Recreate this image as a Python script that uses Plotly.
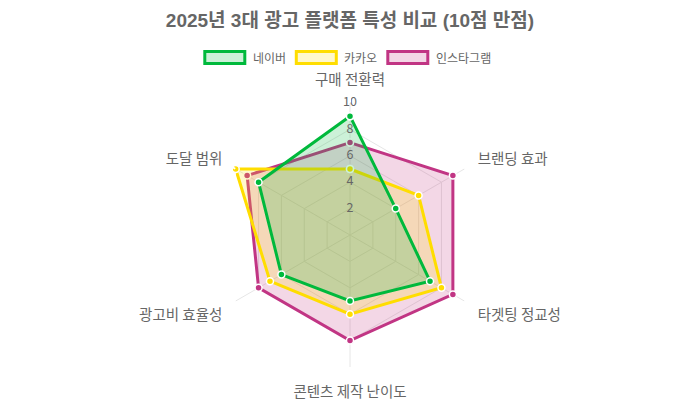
import plotly.graph_objects as go

categories = ["구매 전환력", "브랜딩 효과", "타겟팅 정교성", "콘텐츠 제작 난이도", "광고비 효율성", "도달 범위"]
series_names = ["네이버", "카카오", "인스타그램"]
naver = [9, 4, 7, 5, 6, 8]
kakao = [5, 6, 8, 6, 7, 10]
instagram = [7, 9, 9, 8, 8, 9]
radial_ticks = [2, 4, 6, 8, 10]

line_colors = ["#00B93C", "#FFDD00", "#C13584"]
fill_colors = ["rgba(0,185,60,0.2)", "rgba(255,221,0,0.2)", "rgba(193,53,132,0.2)"]
values = [naver, kakao, instagram]

W, H = 692, 392           # page has an 8px body margin
ML, MR, MT, MB = 0, 8, 95, 33
PW, PH = W - ML - MR, H - MT - MB


def px(x):
    return (x - ML) / PW


def py(y):
    return (H - MB - y) / PH


fig = go.Figure()
# draw Instagram first so Naver ends on top
for i in [2, 1, 0]:
    r = values[i] + [values[i][0]]
    th = categories + [categories[0]]
    fig.add_trace(go.Scatterpolar(
        r=r, theta=th, name=series_names[i], fill="toself",
        fillcolor=fill_colors[i], mode="lines+markers",
        line=dict(color=line_colors[i], width=3),
        marker=dict(size=7, color=line_colors[i], line=dict(color="white", width=1.5)),
        showlegend=False,
    ))

# radial tick labels, centred on the vertical axis
fig.add_trace(go.Scatterpolar(
    r=radial_ticks, theta=[categories[0]] * len(radial_ticks),
    text=[str(v) for v in radial_ticks], mode="text",
    textfont=dict(size=12.5, color="#666666"), textposition="middle center",
    showlegend=False, hoverinfo="skip",
))

# legend drawn Chart.js style: boxes + labels
shapes, annotations = [], []
box_x0 = [196.8, 288.3, 379.8]
for i, name in enumerate(series_names):
    x0 = box_x0[i]
    shapes.append(dict(type="rect", xref="paper", yref="paper",
                       x0=px(x0), x1=px(x0 + 40), y0=py(43.5), y1=py(55.5),
                       line=dict(color=line_colors[i], width=3),
                       fillcolor=fill_colors[i]))
    annotations.append(dict(text=name, xref="paper", yref="paper",
                            x=px(x0 + 46), y=py(49.5), xanchor="left", yanchor="middle",
                            showarrow=False, font=dict(size=12, color="#666666")))

fig.update_layout(
    width=W, height=H,
    paper_bgcolor="white", plot_bgcolor="white",
    font=dict(family="Noto Sans CJK KR, sans-serif", color="#666666", size=12),
    title=dict(text="<b>2025년 3대 광고 플랫폼 특성 비교 (10점 만점)</b>",
               x=px(342), xref="paper", xanchor="center",
               y=1 - 12 / H, yanchor="middle",
               font=dict(family="Liberation Sans, Noto Sans CJK KR, sans-serif",
                         size=19, color="#666666")),
    margin=dict(l=ML, r=MR, t=MT, b=MB),
    showlegend=False,
    shapes=shapes,
    annotations=annotations,
    polar=dict(
        bgcolor="white",
        gridshape="linear",
        radialaxis=dict(range=[0, 10], tickvals=radial_ticks, angle=90,
                        showticklabels=False, showline=False,
                        gridcolor="#e6e6e6", ticks=""),
        angularaxis=dict(rotation=90, direction="clockwise", gridcolor="#e6e6e6",
                         showline=False, ticks="outside", ticklen=12, tickwidth=2,
                         tickcolor="white",
                         tickfont=dict(size=14.5, color="#666666")),
    ),
)

fig.write_html("out.html")
